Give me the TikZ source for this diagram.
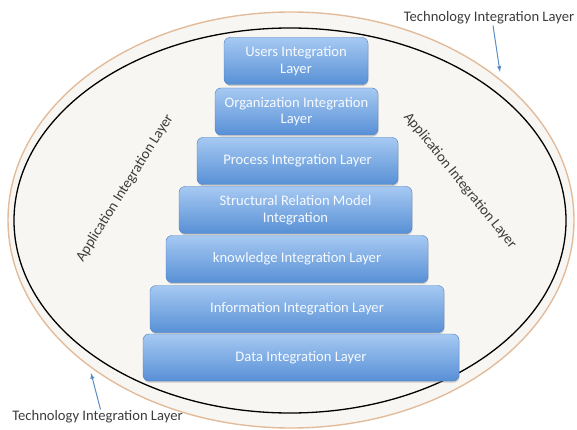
\documentclass[tikz,border=0pt]{standalone}
\usepackage{fontspec}
\setmainfont{Carlito}
\usetikzlibrary{shadows}

\definecolor{layertop}{HTML}{A6C9F2}
\definecolor{layerbot}{HTML}{5890D6}
\definecolor{layeredge}{HTML}{4A7FC0}
\definecolor{ringtan}{HTML}{E2BC9A}
\definecolor{ringfill}{HTML}{F8F6F3}
\definecolor{labelgray}{HTML}{3C3C3C}
\definecolor{arrowblue}{HTML}{5B8CC6}

\begin{document}
\begin{tikzpicture}[x=1pt,y=-1pt,
    layerbox/.style={rounded corners=6pt, top color=layertop, bottom color=layerbot,
        draw=layeredge, line width=0.4pt, text=white!90!layertop, align=center,
        font=\fontsize{14.6}{16.5}\selectfont, minimum height=47pt, inner sep=2pt,
        drop shadow={opacity=0.35, shadow xshift=0.6pt, shadow yshift=-1.6pt}},
    ringlabel/.style={text=labelgray, font=\fontsize{14.6}{16.5}\selectfont, inner sep=1pt},
    techarrow/.style={-latex, arrowblue, line width=1pt}]
    \useasboundingbox (0,0) rectangle (577,430);

    % Technology ring (outer) and application ring (inner)
    \draw[ringtan, line width=1.4pt, fill=ringfill] (291,220) ellipse [x radius=283, y radius=208];
    \draw[black, line width=1.3pt] (290,220.5) ellipse [x radius=276, y radius=192.5];

    % Stacked layers, top to bottom
    \node[layerbox, minimum width=144pt] (users) at (296,61) {Users Integration\\Layer};
    \node[layerbox, minimum width=163pt] (org) at (296.5,111.5) {Organization Integration\\Layer};
    \node[layerbox, minimum width=201pt] (process) at (297.5,161) {Process Integration Layer};
    \node[layerbox, minimum width=233pt] (struct) at (295.5,210) {Structural Relation Model\\Integration};
    \node[layerbox, minimum width=262pt] (know) at (297,259) {knowledge Integration Layer};
    \node[layerbox, minimum width=294pt] (info) at (297,309) {Information Integration Layer};
    \node[layerbox, minimum width=316pt] (data) at (301,357.5) {Data Integration Layer};

    % Application layer labels along the inner ring
    \node[ringlabel, rotate=58] (appleft) at (125,188) {Application Integration Layer};
    \node[ringlabel, rotate=-51] (appright) at (460,181) {Application Integration Layer};

    % Technology layer labels with pointers to the outer ring
    \node[ringlabel] (techtop) at (489,18) {Technology Integration Layer};
    \coordinate (toptip) at (500,72);
    \draw[techarrow] ([xshift=4pt]techtop.south) -- (toptip);

    \node[ringlabel] (techbot) at (97.5,417) {Technology Integration Layer};
    \coordinate (bottip) at (91,373);
    \draw[techarrow] ([xshift=3pt]techbot.north) -- (bottip);
\end{tikzpicture}
\end{document}
